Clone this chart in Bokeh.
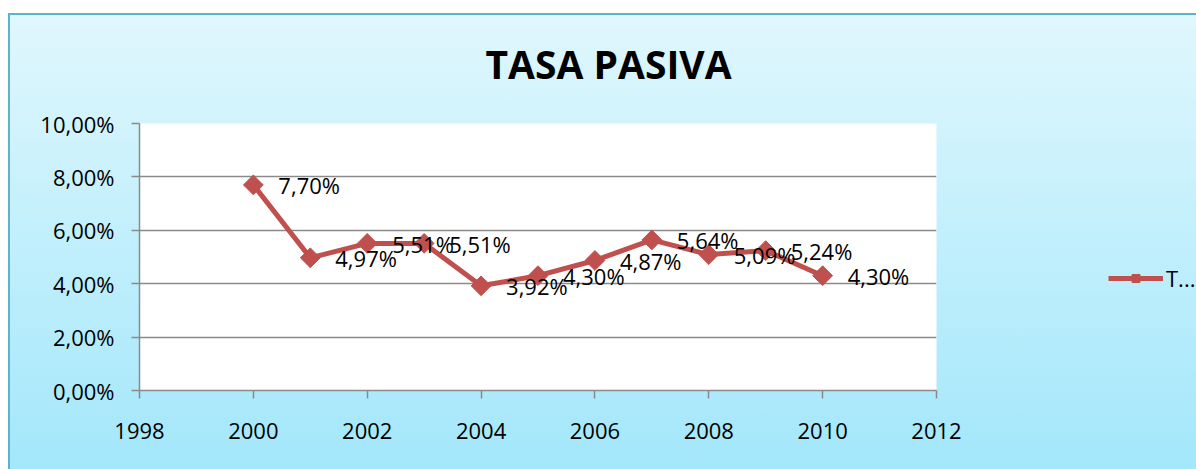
from bokeh.plotting import figure
from bokeh.models import (ColumnDataSource, FixedTicker, CustomJSTickFormatter, Legend,
                          LegendItem, Range1d, Title)
from bokeh.core.properties import value
from bokeh.embed import file_html
from bokeh.resources import INLINE
import math

# ---- data ----
years = [2000, 2001, 2002, 2003, 2004, 2005, 2006, 2007, 2008, 2009, 2010]
tasa = [7.70, 4.97, 5.51, 5.51, 3.92, 4.30, 4.87, 5.64, 5.09, 5.24, 4.30]
x_ticks = [1998, 2000, 2002, 2004, 2006, 2008, 2010, 2012]
y_ticks = [0, 2, 4, 6, 8, 10]
title_text = "TASA PASIVA"
legend_label = "T..."

labels = [f"{v:.2f}".replace(".", ",") + "%" for v in tasa]
src = ColumnDataSource(dict(x=years, y=tasa, lab=labels))

FONT = "Open Sans"
RED = "#c0504d"
GRID = "#8a8a8a"
EDGE = "#5bb4cc"

p = figure(frame_width=797, frame_height=267, output_backend="svg", toolbar_location=None,
           x_range=Range1d(1998, 2012), y_range=Range1d(0, 10),
           min_border_left=139, min_border_right=260, min_border_top=123, min_border_bottom=79,
           styles={
               "background": (f"linear-gradient({EDGE},{EDGE}) 8px 13px / 100% 2px no-repeat, "
                              f"linear-gradient({EDGE},{EDGE}) 8px 13px / 2px 100% no-repeat, "
                              "linear-gradient(to bottom, #e0f7fd, #a3e7fb) 8px 13px / 100% 456px no-repeat, "
                              "#ffffff"),
           })
p.border_fill_alpha = 0
p.background_fill_color = "white"
p.outline_line_alpha = 0

t = Title(text=title_text, align="left", offset=346, text_font=FONT, text_font_size="39px",
          text_font_style="bold", text_color="black", standoff=67)
p.add_layout(t, "above")

# axes
for ax in (p.xaxis[0], p.yaxis[0]):
    ax.axis_line_color = GRID
    ax.axis_line_width = 1.5
    ax.major_tick_line_color = GRID
    ax.major_tick_line_width = 1.5
    ax.major_tick_out = 8
    ax.major_tick_in = 0
    ax.minor_tick_line_color = None
    ax.major_label_text_font = FONT
    ax.major_label_text_font_size = "22px"
    ax.major_label_text_color = "black"
p.xaxis.major_label_standoff = 24
p.yaxis.major_label_standoff = 17

p.xaxis.ticker = FixedTicker(ticks=x_ticks)
p.yaxis.ticker = FixedTicker(ticks=y_ticks)
p.yaxis.formatter = CustomJSTickFormatter(code="return tick.toFixed(2).replace('.', ',') + '%';")
p.xaxis.formatter = CustomJSTickFormatter(code="return tick.toFixed(0);")

p.xgrid.grid_line_color = None
p.ygrid.grid_line_color = GRID
p.ygrid.grid_line_width = 1.5
p.ygrid.ticker = FixedTicker(ticks=y_ticks)

lr = p.line("x", "y", source=src, line_color=RED, line_width=5, line_join="round")
sr = p.scatter("x", "y", source=src, marker="square", angle=math.pi / 4, size=14,
               fill_color=RED, line_color=RED)

p.text("x", "y", text="lab", source=src, x_offset=25, y_offset=0.5,
       text_font=value(FONT), text_font_size="22px", text_baseline="middle",
       text_align="left", text_color="black")

leg = Legend(items=[LegendItem(label=legend_label, renderers=[lr, sr])],
             location=(172, 97), padding=0, margin=0, spacing=0,
             glyph_width=55, glyph_height=20, label_height=20, label_standoff=3,
             border_line_alpha=0, background_fill_alpha=0,
             label_text_font=FONT, label_text_font_size="22px", label_text_color="black")
p.add_layout(leg, "right")

open("out.html", "w").write(file_html(p, INLINE))
